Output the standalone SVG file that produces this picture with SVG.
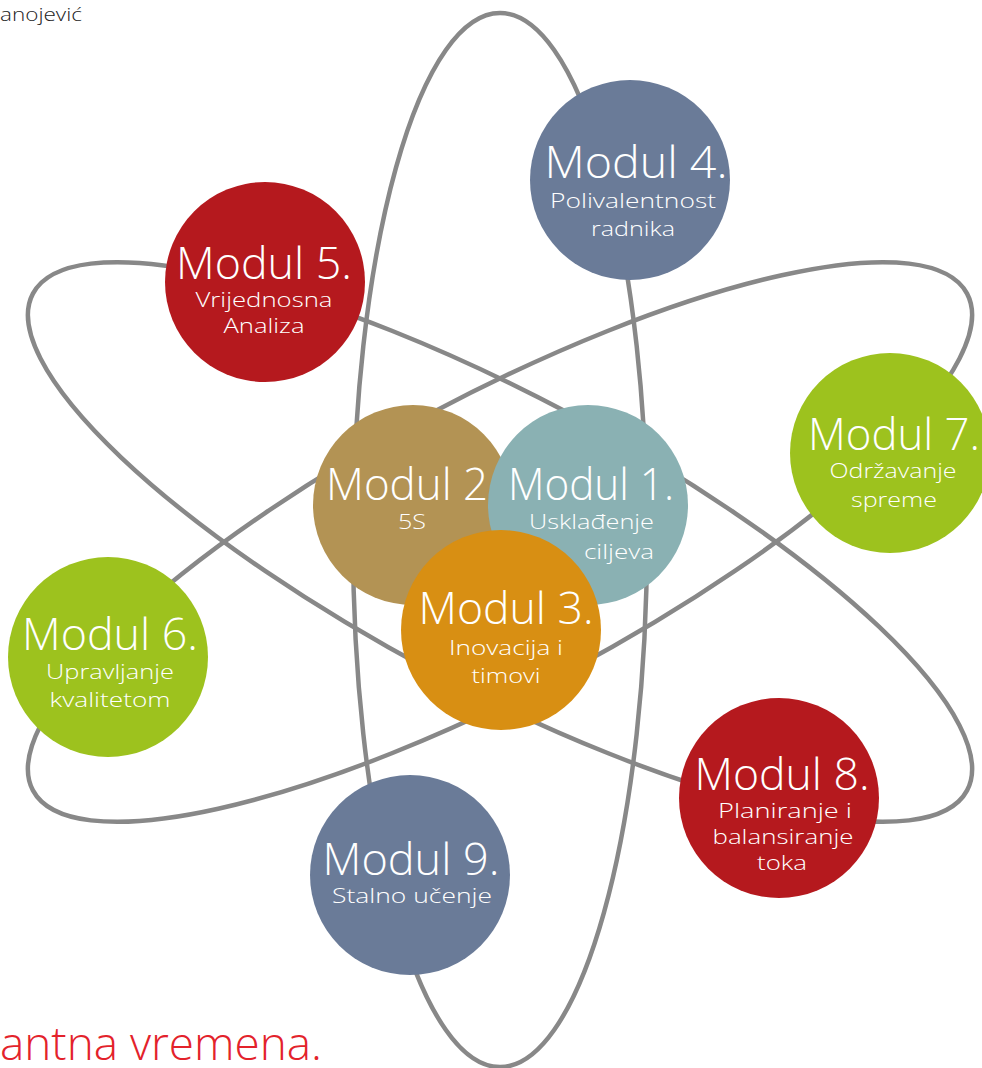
<svg xmlns="http://www.w3.org/2000/svg" width="982" height="1068" viewBox="0 0 982 1068">
<style>
.orbit{fill:none;stroke:#888888;stroke-width:4.5}
.t{font-family:"Open Sans",Roboto,"Liberation Sans",sans-serif;font-weight:300;fill:#ffffff;text-anchor:middle}
.h{font-size:44px}
.s{font-size:21px}
.blue{fill:#6a7b98}.red{fill:#b5191e}.green{fill:#9dc21e}.tan{fill:#b39354}.teal{fill:#8ab1b3}.orange{fill:#d88f13}
</style>
<rect width="982" height="1068" fill="#ffffff"/>
<text x="0" y="21" font-family="'Open Sans',Roboto,'Liberation Sans',sans-serif" font-weight="300" font-size="19" fill="#222222" textLength="82" lengthAdjust="spacingAndGlyphs">anojević</text>
<text x="0" y="1060" font-family="'Open Sans',Roboto,'Liberation Sans',sans-serif" font-weight="300" font-size="46" fill="#e3222b" textLength="322" lengthAdjust="spacingAndGlyphs">antna vremena.</text>
<g id="connectors">
<ellipse class="orbit" cx="500" cy="540" rx="147" ry="527"/>
<ellipse class="orbit" cx="0" cy="0" rx="529" ry="146" transform="translate(500 542) rotate(28)"/>
<ellipse class="orbit" cx="0" cy="0" rx="529" ry="146" transform="translate(500 542) rotate(-28)"/>
</g>
<g id="modul4">
<circle class="blue" cx="630" cy="180" r="100"/>
<text class="t h" x="636" y="178" textLength="183" lengthAdjust="spacingAndGlyphs">Modul 4.</text>
<text class="t s" x="633" y="208" textLength="166" lengthAdjust="spacingAndGlyphs">Polivalentnost</text>
<text class="t s" x="633" y="236" textLength="84" lengthAdjust="spacingAndGlyphs">radnika</text>
</g>
<g id="modul5">
<circle class="red" cx="265" cy="282" r="100"/>
<text class="t h" x="264" y="279" textLength="176" lengthAdjust="spacingAndGlyphs">Modul 5.</text>
<text class="t s" x="264" y="307" textLength="137" lengthAdjust="spacingAndGlyphs">Vrijednosna</text>
<text class="t s" x="264" y="333" textLength="81" lengthAdjust="spacingAndGlyphs">Analiza</text>
</g>
<g id="modul7">
<circle class="green" cx="890" cy="453" r="100"/>
<text class="t h" x="894" y="450" textLength="172" lengthAdjust="spacingAndGlyphs">Modul 7.</text>
<text class="t s" x="893" y="478" textLength="127" lengthAdjust="spacingAndGlyphs">Održavanje</text>
<text class="t s" x="894" y="507" textLength="86" lengthAdjust="spacingAndGlyphs">spreme</text>
</g>
<g id="modul6">
<circle class="green" cx="108" cy="657" r="100"/>
<text class="t h" x="110" y="650" textLength="176" lengthAdjust="spacingAndGlyphs">Modul 6.</text>
<text class="t s" x="110" y="679" textLength="128" lengthAdjust="spacingAndGlyphs">Upravljanje</text>
<text class="t s" x="110" y="707" textLength="121" lengthAdjust="spacingAndGlyphs">kvalitetom</text>
</g>
<g id="modul8">
<circle class="red" cx="779" cy="798" r="100"/>
<text class="t h" x="782" y="790" textLength="175" lengthAdjust="spacingAndGlyphs">Modul 8.</text>
<text class="t s" x="785" y="818" textLength="134" lengthAdjust="spacingAndGlyphs">Planiranje i</text>
<text class="t s" x="783" y="844" textLength="141" lengthAdjust="spacingAndGlyphs">balansiranje</text>
<text class="t s" x="782" y="870" textLength="50" lengthAdjust="spacingAndGlyphs">toka</text>
</g>
<g id="modul9">
<circle class="blue" cx="410" cy="875" r="100"/>
<text class="t h" x="411" y="875" textLength="177" lengthAdjust="spacingAndGlyphs">Modul 9.</text>
<text class="t s" x="412" y="903" textLength="160" lengthAdjust="spacingAndGlyphs">Stalno učenje</text>
</g>
<g id="modul2">
<circle class="tan" cx="413" cy="505" r="100"/>
<text class="t h" x="407" y="500" textLength="162" lengthAdjust="spacingAndGlyphs">Modul 2</text>
<text class="t s" x="412" y="529" textLength="28" lengthAdjust="spacingAndGlyphs">5S</text>
</g>
<g id="modul1">
<circle class="teal" cx="588" cy="505" r="100"/>
<text class="t h" x="591" y="500" textLength="166" lengthAdjust="spacingAndGlyphs">Modul 1.</text>
<text class="t s" x="654" y="529" style="text-anchor:end" textLength="125" lengthAdjust="spacingAndGlyphs">Usklađenje</text>
<text class="t s" x="654" y="559" style="text-anchor:end" textLength="70" lengthAdjust="spacingAndGlyphs">ciljeva</text>
</g>
<g id="modul3">
<circle class="orange" cx="501" cy="630" r="100"/>
<text class="t h" x="506" y="624" textLength="175" lengthAdjust="spacingAndGlyphs">Modul 3.</text>
<text class="t s" x="506" y="655" textLength="114" lengthAdjust="spacingAndGlyphs">Inovacija i</text>
<text class="t s" x="506" y="683" textLength="69" lengthAdjust="spacingAndGlyphs">timovi</text>
</g>
</svg>
